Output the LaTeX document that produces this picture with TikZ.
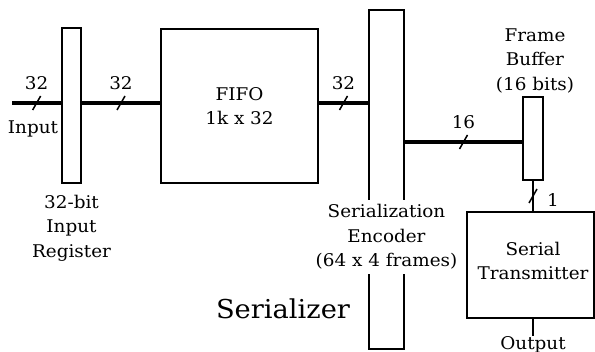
\documentclass[tikz,border=0pt]{standalone}
\usepackage{fontspec}
\setmainfont{DejaVu Serif}[FakeStretch=1.05]
\usetikzlibrary{positioning}
\begin{document}
\begin{tikzpicture}[x=1pt,y=-1pt,
  box/.style={draw,line width=1.4pt,rectangle,inner sep=0pt},
  bus/.style={line width=3.2pt},
  wire/.style={line width=1.5pt},
  slash/.style={line width=1.5pt},
  lbl/.style={font=\fontsize{17.5}{24.5}\selectfont,align=center,inner sep=1pt},
  big/.style={font=\fontsize{26}{30}\selectfont,inner sep=0pt}]
\useasboundingbox (0,0) rectangle (595,352);
% blocks
\node[box,minimum width=19pt,minimum height=155pt] (reg) at (71.5,105.5) {};
\node[box,minimum width=157pt,minimum height=154pt,lbl] (fifo) at (239.5,106) {FIFO\\1k x 32};
\node[box,minimum width=35pt,minimum height=339pt] (enc) at (386.5,179.5) {};
\node[box,minimum width=20pt,minimum height=83pt] (fb) at (533,138.5) {};
\node[box,minimum width=127pt,minimum height=106pt] (st) at (530.5,265) {};
% labels
\node[lbl] (stlbl) at (533,261) {Serial\\Transmitter};
\node[lbl,anchor=north] (reglbl) at (71.5,194) {32-bit\\Input\\Register};
\node[lbl,anchor=south] (fblbl) at (535,94) {Frame\\Buffer\\(16 bits)};
\node[lbl,fill=white,inner xsep=2pt,inner ysep=4pt] (enclbl) at (386.5,237) {Serialization\\Encoder\\(64 x 4 frames)};
\node[big] (title) at (283,309) {Serializer};
\node[lbl] (inlbl) at (33,129) {Input};
\node[lbl,anchor=north,inner sep=0pt] (out) at (533,336) {Output};
% connectors
\coordinate (in) at (12,103);
\coordinate (b16) at (0,142);
\draw[bus] (in) -- (in -| reg.west) coordinate[pos=0.5] (s1);
\draw[bus] (in -| reg.east) -- (in -| fifo.west) coordinate[pos=0.5] (s2);
\draw[bus] (in -| fifo.east) -- (in -| enc.west) coordinate[pos=0.5] (s3);
\draw[bus] (b16 -| enc.east) -- (b16 -| fb.west) coordinate[pos=0.5] (s4);
\draw[wire] (fb.south) -- (fb.south |- st.north) coordinate[pos=0.5] (s5);
\draw[wire] (out.north |- st.south) -- (out.north);
% slash marks
\foreach \s in {s1,s2,s3,s4,s5}
  \draw[slash] (\s) +(-4,7) -- +(4,-7);
\node[lbl] (n1) at ([yshift=20pt]s1) {32};
\node[lbl] (n2) at ([yshift=20pt]s2) {32};
\node[lbl] (n3) at ([yshift=20pt]s3) {32};
\node[lbl] (n4) at ([yshift=20pt]s4) {16};
\node[lbl] (n5) at ([xshift=20pt,yshift=-4pt]s5) {1};
\end{tikzpicture}
\end{document}
